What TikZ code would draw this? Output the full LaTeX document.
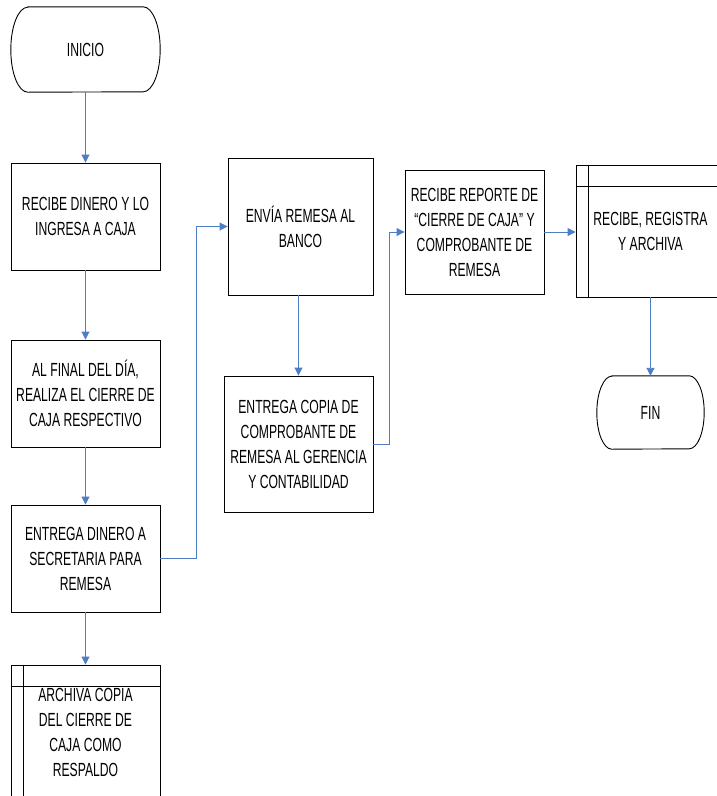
\documentclass[tikz,border=0pt]{standalone}
\usepackage{fontspec}
\setmainfont[FakeStretch=0.64]{Liberation Sans}
\usetikzlibrary{arrows.meta,calc}
\definecolor{flowblue}{HTML}{4F7DC4}
\tikzset{
  every node/.style={font=\fontsize{19}{25}\selectfont, align=center, inner sep=0pt},
  procbox/.style={draw=black, line width=0.9pt, rectangle},
  termbox/.style={rectangle, draw=none},
  flow/.style={draw=flowblue, line width=0.9pt, -{Triangle[length=8pt,width=8pt]}},
  outline/.style={draw=black, line width=0.9pt},
}
% rounded terminator outline around a named node
\newcommand{\termoutline}[3]{%
  \draw[outline] ([xshift=#2]#1.north west) -- ([xshift=-#2]#1.north east)
    arc[start angle=90,end angle=-90,x radius=#2,y radius=#3]
    -- ([xshift=#2]#1.south west)
    arc[start angle=270,end angle=90,x radius=#2,y radius=#3] -- cycle;}
% predefined-process marks: inner vertical and horizontal rules
\newcommand{\predefmarks}[1]{%
  \draw[outline] ([xshift=12.5pt]#1.north west) -- ([xshift=12.5pt]#1.south west);
  \draw[outline] ([yshift=-22pt]#1.north west) -- ([yshift=-22pt]#1.north east);}
\begin{document}
\begin{tikzpicture}[x=1pt,y=-1pt]
\clip (0,0) rectangle (717,796);

% left column
\node[termbox, minimum width=149pt, minimum height=85pt] (ini) at (85.5,49.5) {INICIO};
\termoutline{ini}{17pt}{42.5pt}
\node[procbox, minimum width=149pt, minimum height=107pt] (b1) at (85.5,216.5)
  {RECIBE DINERO Y LO\\INGRESA A CAJA};
\node[procbox, minimum width=149pt, minimum height=107pt] (b2) at (85.5,393.5)
  {AL FINAL DEL DÍA,\\REALIZA EL CIERRE DE\\CAJA RESPECTIVO};
\node[procbox, minimum width=149pt, minimum height=107pt] (b3) at (85.5,558.5)
  {ENTREGA DINERO A\\SECRETARIA PARA\\REMESA};
\node[procbox, minimum width=149pt, minimum height=134pt] (b4) at (85.5,732)
  {ARCHIVA COPIA\\DEL CIERRE DE\\CAJA COMO\\RESPALDO};
\predefmarks{b4}

% middle column
\node[procbox, minimum width=145pt, minimum height=137pt] (b5) at (300.5,226.5)
  {ENVÍA REMESA AL\\BANCO};
\node[procbox, minimum width=149pt, minimum height=136pt] (b6) at (298.5,444)
  {ENTREGA COPIA DE\\COMPROBANTE DE\\REMESA AL GERENCIA\\Y CONTABILIDAD};

% right columns
\node[procbox, minimum width=139pt, minimum height=124pt] (b7) at (474.5,232)
  {RECIBE REPORTE DE\\“CIERRE DE CAJA” Y\\COMPROBANTE DE\\REMESA};
\node[procbox, minimum width=149pt, minimum height=132pt] (b8) at (650.5,231)
  {RECIBE, REGISTRA\\Y ARCHIVA};
\predefmarks{b8}
\node[termbox, minimum width=107pt, minimum height=73pt] (fin) at (650.5,412.5) {FIN};
\termoutline{fin}{15pt}{36.5pt}

% connectors
\draw[flow] (ini.south) -- (b1.north);
\draw[flow] (b1.south) -- (b2.north);
\draw[flow] (b2.south) -- (b3.north);
\draw[flow] (b3.south) -- (b4.north);
\draw[flow] (b3.east) -- ++(36,0) |- (b5.west);
\draw[flow] (b5.south -| b6.north) -- (b6.north);
\draw[flow] (b6.east) -- ++(16,0) |- (b7.west);
\draw[flow] (b7.east) -- (b7.east -| b8.west);
\draw[flow] (b8.south) -- (fin.north);
\end{tikzpicture}
\end{document}
